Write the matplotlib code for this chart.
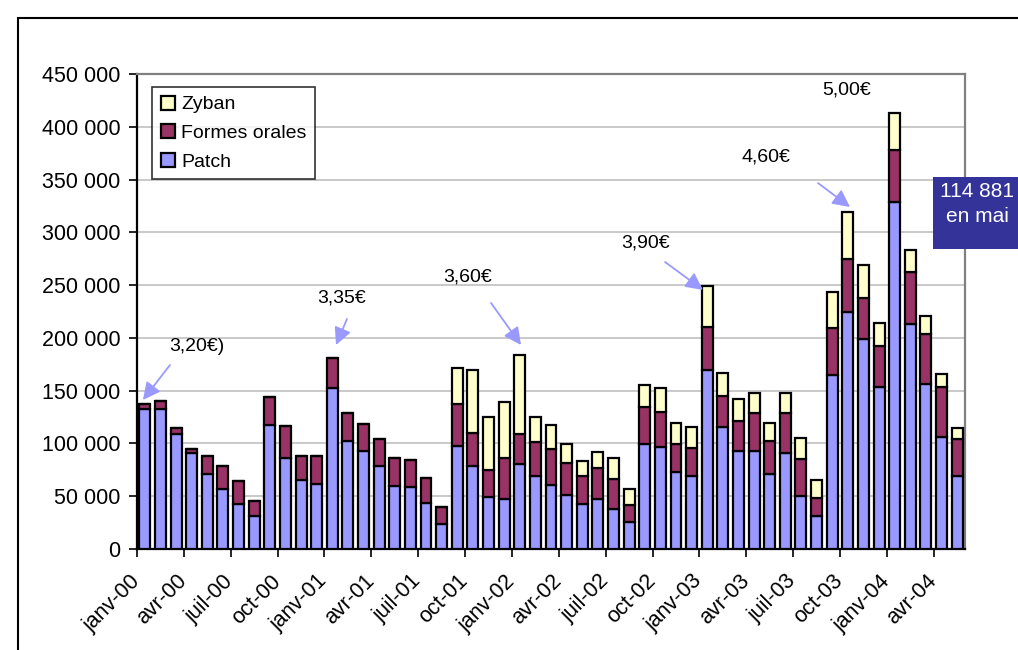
import numpy as np
import matplotlib.pyplot as plt
import matplotlib.transforms as mtransforms
from matplotlib.patches import Rectangle
from matplotlib.ticker import FuncFormatter

plt.rcParams['font.family'] = ['Liberation Sans', 'DejaVu Sans']

# Monthly sales, janv-00 .. mai-04 (53 months)
months = ['janv', 'févr', 'mars', 'avr', 'mai', 'juin',
          'juil', 'août', 'sept', 'oct', 'nov', 'déc']
labels = [f'{m}-{y:02d}' for y in range(0, 5) for m in months][:53]

patch = [132600, 132600, 109200, 90800, 70600, 56600, 42700, 31300, 117400,
         86400, 64900, 61700, 152200, 102200, 92700, 78200, 59800, 58500,
         43400, 23700, 97800, 78200, 49100, 47800, 80700, 69300, 60400,
         51600, 42700, 47200, 38300, 25600, 99700, 96500, 73100, 69300,
         169600, 115800, 92400, 93000, 71500, 91100, 50600, 31000, 164600,
         224100, 199400, 153800, 329100, 213300, 156300, 106300, 69000]
orales = [4400, 7600, 5000, 3500, 17100, 22200, 21500, 14000, 26600,
          30400, 22800, 26000, 29100, 26600, 26000, 25900, 26000, 25400,
          24000, 15900, 39200, 31600, 25900, 38600, 28500, 31700, 34200,
          29700, 26000, 29700, 27800, 15900, 34800, 32900, 26600, 26600,
          40500, 29100, 29100, 36100, 31000, 37400, 34200, 17700, 44900,
          50600, 38600, 38600, 48700, 48700, 47500, 47500, 35400]
zyban = [0, 0, 0, 0, 0, 0, 0, 0, 0,
         0, 0, 0, 0, 0, 0, 0, 0, 0,
         0, 0, 34800, 60100, 50000, 52500, 74700, 24000, 22800,
         17800, 14500, 14600, 19700, 15100, 20900, 22800, 19600, 19600,
         38600, 22200, 20300, 19000, 16500, 19000, 20300, 16500, 34200,
         44300, 31000, 21500, 35500, 20900, 17100, 12000, 10500]

# price of a pack, label positions (category index, value)
price_txt = ['3,20€)', '3,35€', '3,60€', '3,90€', '4,60€', '5,00€']
price_x = [3.34, 12.62, 20.69, 32.08, 39.76, 44.95]
price_y = [192300, 237800, 257700, 289900, 371400, 434500]
# arrows: start -> tip (None = no arrow)
arrow_from = [(1.61, 174300), (12.94, 217900), (22.16, 233100), (33.30, 271900), (43.09, 346700), None]
arrow_to = [(-0.12, 141200), (12.24, 193300), (24.08, 193300), (35.73, 245400), (45.14, 324000), None]

box_txt = '114 881\nen mai'

c_patch = '#9999FF'
c_orales = '#993366'
c_zyban = '#FFFFCC'

fig = plt.figure(figsize=(10.18, 6.5), dpi=100)
ax = fig.add_axes([137 / 1018, 1 - 549 / 650, 828 / 1018, 475 / 650])

x = np.arange(len(patch))
p = np.array(patch)
o = np.array(orales)
z = np.array(zyban)
w = 0.7
kw = dict(width=w, edgecolor='black', linewidth=1.6, zorder=3)
b1 = ax.bar(x, p, color=c_patch, label='Patch', **kw)
b2 = ax.bar(x, o, bottom=p, color=c_orales, label='Formes orales', **kw)
b3 = ax.bar(x, z, bottom=p + o, color=c_zyban, label='Zyban', **kw)

ax.set_xlim(-0.5, len(patch) - 0.5)
ax.set_ylim(0, 450000)
ax.set_yticks(np.arange(0, 450001, 50000))
ax.yaxis.set_major_formatter(FuncFormatter(lambda v, pos: f'{int(v):,}'.replace(',', ' ')))
ax.yaxis.grid(True, color='#C0C0C0', linewidth=1.2, zorder=0)
ax.set_axisbelow(True)

ax.set_xticks(x[::3])
ax.set_xticklabels(labels[::3], rotation=45, ha='right', va='center',
                   rotation_mode='anchor')
ax.set_xticks(np.arange(-0.5, len(patch), 3), minor=True)
ax.tick_params(axis='x', which='major', length=0, pad=21, labelsize=15.5)
ax.tick_params(axis='x', which='minor', length=6, width=1.2, direction='out')
ax.tick_params(axis='y', length=6, width=1.2, direction='out', labelsize=15.5, pad=6)

# nudge the month labels a little to the left
shift = mtransforms.ScaledTranslation(-8 / 100, 0, fig.dpi_scale_trans)
for lab in ax.get_xticklabels():
    lab.set_transform(lab.get_transform() + shift)

for s in ['top', 'right']:
    ax.spines[s].set_color('#808080')
    ax.spines[s].set_linewidth(1.6)
for s in ['left', 'bottom']:
    ax.spines[s].set_color('black')
    ax.spines[s].set_linewidth(1.6)

leg = ax.legend(handles=[b3, b2, b1], loc='upper left',
                bbox_to_anchor=(0.018, 0.973), borderaxespad=0,
                fancybox=False, edgecolor='black', fontsize=14,
                handlelength=0.75, handleheight=0.75, handletextpad=0.3,
                labelspacing=0.55, borderpad=0.45)
leg.get_frame().set_linewidth(1.2)

for txt, tx, ty, a0, a1 in zip(price_txt, price_x, price_y, arrow_from, arrow_to):
    ax.text(tx, ty, txt, fontsize=14, ha='center', va='center', zorder=5)
    if a0 is not None:
        ax.annotate('', xy=a1, xytext=a0,
                    arrowprops=dict(arrowstyle='-|>', color=c_patch, lw=1.3,
                                    mutation_scale=26, shrinkA=0, shrinkB=0),
                    zorder=5)

# outer frame
fig.patches.append(Rectangle((18 / 1018, -0.1), 1.2, (650 - 18) / 650 + 0.1,
                             transform=fig.transFigure, fill=False,
                             edgecolor='black', linewidth=1.5))

# info box on the right
fig.patches.append(Rectangle((933 / 1018, 1 - 249 / 650), 0.2, 72 / 650,
                             transform=fig.transFigure, facecolor='#333399',
                             edgecolor='none', zorder=6))
fig.text(977 / 1018, 1 - 204 / 650, box_txt, color='white', fontsize=15,
         ha='center', va='center', linespacing=1.45, zorder=7)

fig.savefig('out.png', dpi=100)
